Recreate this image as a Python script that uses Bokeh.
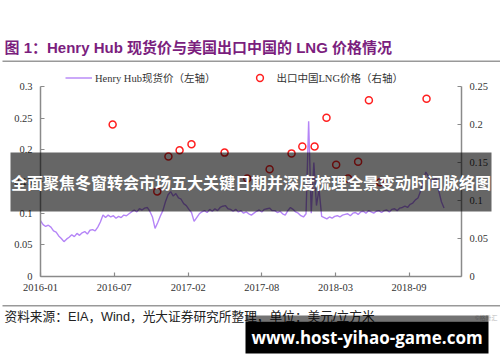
import pandas as pd
from bokeh.plotting import figure
from bokeh.models import (Range1d, LinearAxis, FixedTicker, NumeralTickFormatter,
                          DatetimeTickFormatter, Label, BoxAnnotation, Legend, LegendItem)
from bokeh.embed import file_html
from bokeh.resources import INLINE

# ---------------- data ----------------
title_text = "图 1：Henry Hub 现货价与美国出口中国的 LNG 价格情况"
source_text = "资料来源：EIA，Wind，光大证券研究所整理，单位：美元/立方米"
banner_text = "全面聚焦冬窗转会市场五大关键日期并深度梳理全景变动时间脉络图"
watermark_text = "www.host-yihao-game.com"
credit_text = "©格隆汇"
series_names = ["Henry Hub现货价（左轴）", "出口中国LNG价格（右轴）"]

hh_start = "2016-01-04"   # weekly series start
hh_values = [
    0.088, 0.082, 0.079, 0.081, 0.078, 0.072, 0.070, 0.064, 0.060, 0.055,
    0.059, 0.062, 0.066, 0.063, 0.068, 0.065, 0.069, 0.071, 0.067, 0.073,
    0.074, 0.072, 0.078, 0.086, 0.097, 0.093, 0.097, 0.094, 0.096, 0.092,
    0.095, 0.093, 0.097, 0.096, 0.099, 0.102, 0.105, 0.102, 0.107, 0.105,
    0.108, 0.109, 0.103, 0.094, 0.076, 0.085, 0.095, 0.104, 0.118, 0.129,
    0.134, 0.127, 0.131, 0.124, 0.122, 0.115, 0.112, 0.106, 0.101, 0.087,
    0.093, 0.099, 0.102, 0.104, 0.101, 0.106, 0.103, 0.107, 0.104, 0.109,
    0.111, 0.112, 0.107, 0.106, 0.103, 0.106, 0.102, 0.104, 0.100, 0.102,
    0.099, 0.097, 0.100, 0.103, 0.105, 0.102, 0.106, 0.107, 0.108, 0.104,
    0.104, 0.101, 0.103, 0.099, 0.097, 0.104, 0.109, 0.106, 0.102, 0.100,
    0.096, 0.094, 0.099, 0.245, 0.100, 0.180, 0.112, 0.138, 0.095, 0.093,
    0.091, 0.094, 0.092, 0.095, 0.096, 0.094, 0.097, 0.098, 0.099, 0.096,
    0.100, 0.101, 0.098, 0.102, 0.103, 0.100, 0.104, 0.102, 0.100, 0.103,
    0.104, 0.101, 0.104, 0.105, 0.102, 0.106, 0.107, 0.104, 0.108, 0.109,
    0.111, 0.109, 0.114, 0.116, 0.121, 0.124, 0.135, 0.150, 0.165, 0.158,
    0.150, 0.153, 0.155, 0.135, 0.118, 0.108,
]

lng_dates = ["2016-07-16", "2016-11-13", "2016-12-13", "2017-01-12", "2017-02-13",
             "2017-05-13", "2017-07-13", "2017-09-11", "2017-11-09", "2017-12-08",
             "2018-01-10", "2018-02-11", "2018-03-09", "2018-04-10", "2018-05-07",
             "2018-06-05", "2018-07-05", "2018-11-07"]
lng_values = [0.200, 0.112, 0.158, 0.166, 0.174,
              0.163, 0.129, 0.141, 0.162, 0.171,
              0.171, 0.209, 0.147, 0.129, 0.151,
              0.232, 0.124, 0.234]

x_start, x_end = "2016-01-04", "2019-02-09"
x_tick_dates = ["2016-01-04", "2016-07-20", "2017-02-04", "2017-08-21", "2018-03-07", "2018-09-21"]
x_tick_labels = ["2016-01", "2016-07", "2017-02", "2017-08", "2018-03", "2018-09"]
left_ticks = [0, 0.05, 0.1, 0.15, 0.2, 0.25, 0.3]
right_ticks = [0, 0.05, 0.1, 0.15, 0.2, 0.25]

# ---------------- layout & styles ----------------
W, H = 500, 362
PL, PR, PT, PB = 40, 461, 86, 276          # plotting area in page pixels
SERIF = "'Liberation Serif', 'Noto Sans CJK SC'"
SANS = "'Liberation Sans', 'Noto Sans CJK SC'"
AXIS_GREY = "#8a8a8a"
LINE_COLOR = "#b585f7"
DOT_COLOR = "#ff1f1f"
TITLE_COLOR = "#7b1e7e"

def ms(d):
    return float(pd.Timestamp(d).value // 10**6)

xs, xe = ms(x_start), ms(x_end)
xpp = (xe - xs) / (PR - PL)
lo_l, hi_l = left_ticks[0], left_ticks[-1]
lo_r, hi_r = right_ticks[0], right_ticks[-1]
ypp_l = (hi_l - lo_l) / (PB - PT)
ypp_r = (hi_r - lo_r) / (PB - PT)

hh_dates = pd.date_range(hh_start, periods=len(hh_values), freq="7D")
lng_x = pd.to_datetime(lng_dates)

p = figure(width=W, height=H, x_axis_type="datetime",
           x_range=Range1d(xs - PL * xpp, xe + (W - PR) * xpp),
           y_range=Range1d(lo_l - (H - PB) * ypp_l, hi_l + PT * ypp_l),
           output_backend="svg", toolbar_location=None,
           min_border=0, min_border_left=0, min_border_right=0,
           min_border_top=0, min_border_bottom=0)
p.extra_y_ranges = {"right": Range1d(lo_r - (H - PB) * ypp_r, hi_r + PT * ypp_r)}
p.grid.visible = False
p.outline_line_color = None
p.background_fill_color = "white"
p.border_fill_color = "white"

line_r = p.line(hh_dates, hh_values, line_color=LINE_COLOR, line_width=1.4)
dot_r = p.scatter(lng_x, lng_values, y_range_name="right", size=7, marker="circle",
                  fill_color=None, line_color=DOT_COLOR, line_width=1.5)

def style_axis(ax, ticks):
    ax.axis_line_color = AXIS_GREY
    ax.axis_line_width = 1.5
    ax.major_tick_line_color = AXIS_GREY
    ax.major_tick_line_width = 1.2
    ax.major_tick_in = 4
    ax.major_tick_out = 0
    ax.minor_tick_line_color = None
    ax.major_label_text_font = SERIF
    ax.major_label_text_font_size = "10.5px"
    ax.major_label_text_color = "#333333"
    ax.major_label_standoff = 8
    ax.ticker = FixedTicker(ticks=ticks)

xax = p.xaxis[0]
tick_ms = [ms(d) for d in x_tick_dates]
style_axis(xax, tick_ms)
xax.formatter = DatetimeTickFormatter(days="%Y-%m", months="%Y-%m", years="%Y-%m")
xax.major_label_overrides = {t: lab for t, lab in zip(tick_ms, x_tick_labels)}
xax.major_label_standoff = 7
xax.fixed_location = lo_l
xax.bounds = (xs, xe)

yax = p.yaxis[0]
style_axis(yax, left_ticks)
yax.formatter = NumeralTickFormatter(format="0.[00]")
yax.fixed_location = xs
yax.bounds = (lo_l, hi_l)

rax = LinearAxis(y_range_name="right")
style_axis(rax, right_ticks)
rax.formatter = NumeralTickFormatter(format="0.[00]")
rax.fixed_location = xe
rax.bounds = (lo_r, hi_r)
p.add_layout(rax, "right")

legend = Legend(items=[LegendItem(label=series_names[0], renderers=[line_r]),
                       LegendItem(label=series_names[1], renderers=[dot_r])],
                location=(65, H - 86), orientation="horizontal",
                glyph_width=27, glyph_height=17, label_height=17,
                label_standoff=3, spacing=31, padding=0, margin=0,
                border_line_color=None, background_fill_alpha=0,
                label_text_font=SERIF, label_text_font_size="10.5px",
                label_text_color="#333333")
p.add_layout(legend)

def box(l, r, t, b, color, alpha):
    # page pixels (top-down) -> screen units (bottom-up)
    return BoxAnnotation(left=l, right=r, top=H - t, bottom=H - b,
                         left_units="screen", right_units="screen",
                         top_units="screen", bottom_units="screen",
                         fill_color=color, fill_alpha=alpha, line_color=None)

def label(x, y, text, **kw):
    return Label(x=x, y=H - y, x_units="screen", y_units="screen", text=text,
                 text_baseline="middle", **kw)

# title and rule
p.add_layout(label(4, 47, title_text, text_font=SANS, text_font_size="15px",
                   text_font_style="bold", text_color=TITLE_COLOR, text_align="left"))
p.add_layout(box(2, 500, 60, 61.5, "#999999", 1))
# footer rule, source, credit
p.add_layout(box(2, 500, 304.5, 306, "#999999", 1))
p.add_layout(label(4, 316, source_text, text_font=SANS, text_font_size="12.7px",
                   text_color="#222222", text_align="left"))
p.add_layout(label(497, 317, credit_text, text_font=SANS, text_font_size="6px",
                   text_color="#bbbbbb", text_align="right"))
# banner overlay
p.add_layout(box(10, 491, 152, 211, "black", 0.6))
p.add_layout(label(250.5, 181.5, banner_text, text_font="'Noto Sans CJK SC'",
                   text_font_size="16px", text_font_style="bold",
                   text_color="white", text_align="center"))
# watermark
p.add_layout(box(245, 488, 315, 321, "black", 0.55))
p.add_layout(box(245, 488, 321, 353, "black", 1))
p.add_layout(label(366.5, 337, watermark_text, text_font="'Open Sans'",
                   text_font_size="17px", text_font_style="bold",
                   text_color="white", text_align="center"))

open("out.html", "w").write(file_html(p, INLINE))
